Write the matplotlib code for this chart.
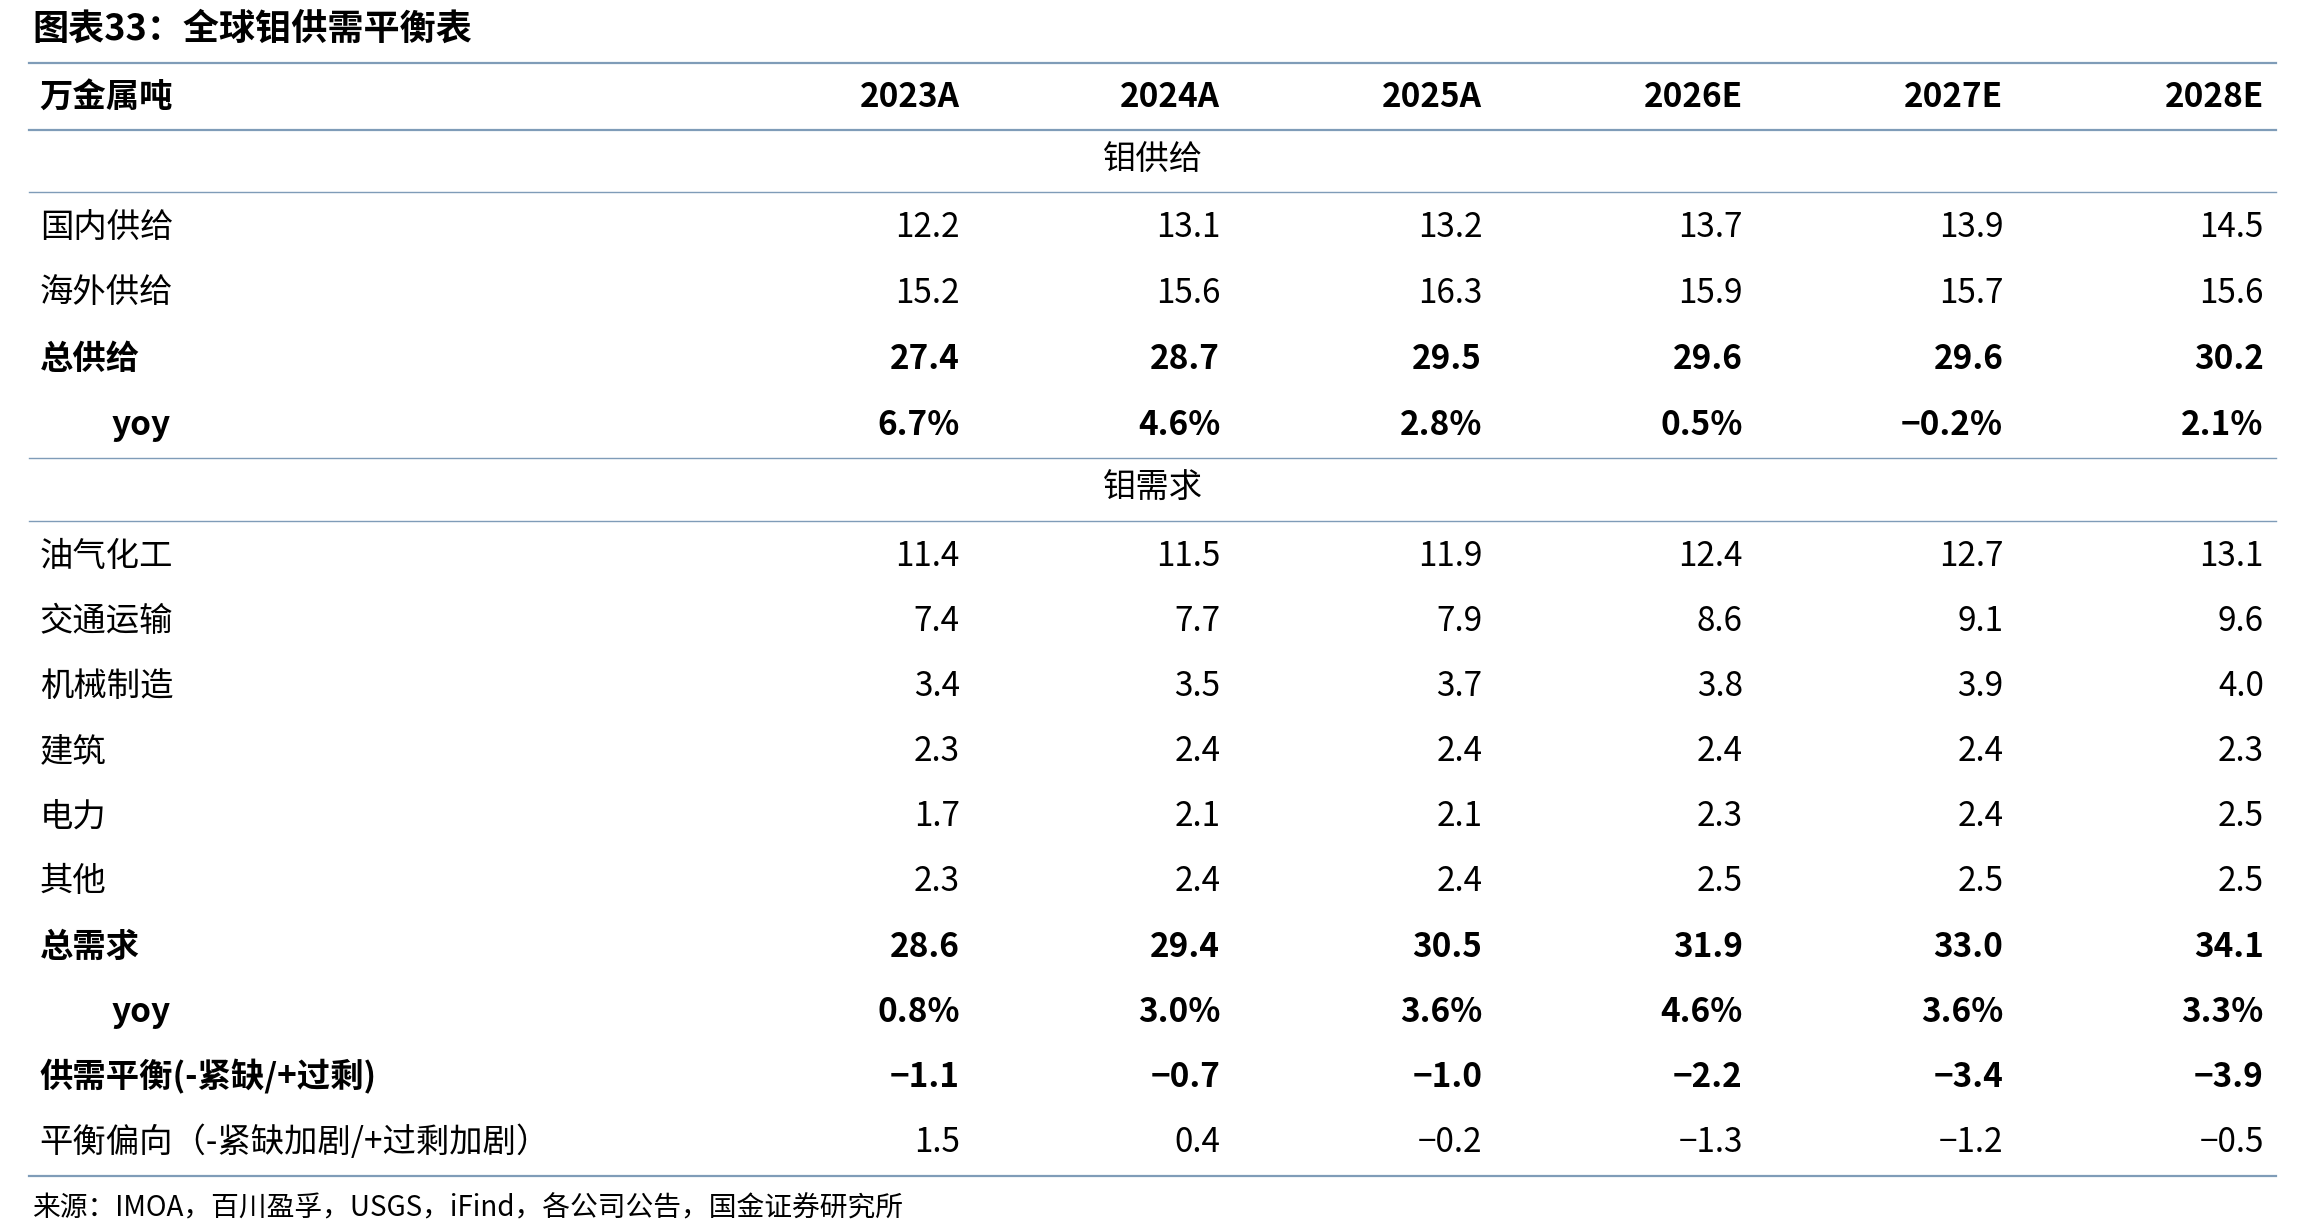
import matplotlib.pyplot as plt

plt.rcParams['font.family'] = ['Noto Sans CJK SC', 'DejaVu Sans']

title = "图表33：全球钼供需平衡表"
unit = "万金属吨"
years = ["2023A", "2024A", "2025A", "2026E", "2027E", "2028E"]

supply_rows = ["国内供给", "海外供给", "总供给", "yoy"]
supply_vals = [
    ["12.2", "13.1", "13.2", "13.7", "13.9", "14.5"],
    ["15.2", "15.6", "16.3", "15.9", "15.7", "15.6"],
    ["27.4", "28.7", "29.5", "29.6", "29.6", "30.2"],
    ["6.7%", "4.6%", "2.8%", "0.5%", "-0.2%", "2.1%"],
]
supply_bold = [False, False, True, True]

demand_rows = ["油气化工", "交通运输", "机械制造", "建筑", "电力", "其他", "总需求", "yoy",
               "供需平衡(-紧缺/+过剩)", "平衡偏向（-紧缺加剧/+过剩加剧）"]
demand_vals = [
    ["11.4", "11.5", "11.9", "12.4", "12.7", "13.1"],
    ["7.4", "7.7", "7.9", "8.6", "9.1", "9.6"],
    ["3.4", "3.5", "3.7", "3.8", "3.9", "4.0"],
    ["2.3", "2.4", "2.4", "2.4", "2.4", "2.3"],
    ["1.7", "2.1", "2.1", "2.3", "2.4", "2.5"],
    ["2.3", "2.4", "2.4", "2.5", "2.5", "2.5"],
    ["28.6", "29.4", "30.5", "31.9", "33.0", "34.1"],
    ["0.8%", "3.0%", "3.6%", "4.6%", "3.6%", "3.3%"],
    ["-1.1", "-0.7", "-1.0", "-2.2", "-3.4", "-3.9"],
    ["1.5", "0.4", "-0.2", "-1.3", "-1.2", "-0.5"],
]
demand_bold = [False] * 6 + [True, True, True, False]
source = "来源：IMOA，百川盈孚，USGS，iFind，各公司公告，国金证券研究所"

W, H = 1568.0, 834.0
fig = plt.figure(figsize=(23.08, 12.31), dpi=100)
fig.patch.set_facecolor('white')
fs = 24
line_c = '#7f9cb8'
col_x = [652, 829, 1007, 1184, 1361, 1538]


def fx(x):
    return x / W


def fy(y):
    return 1 - y / H


def hline(y, lw=1.6):
    fig.add_artist(plt.Line2D([fx(20), fx(1546)], [fy(y), fy(y)], color=line_c, lw=lw))


def row(y, label, vals, bold):
    w = 'bold' if bold else 'normal'
    lx = 76 if label == 'yoy' else 27
    fig.text(fx(lx), fy(y), label, fontsize=fs, fontweight=w, ha='left', va='center')
    for x, v in zip(col_x, vals):
        fig.text(fx(x), fy(y), v.replace('-', '−'), fontsize=fs, fontweight=w, ha='right', va='center')


fig.text(fx(22), fy(20), title, fontsize=26, fontweight='bold', style='italic', ha='left', va='center')
hline(43)
row(66, unit, years, True)
hline(88)
fig.text(fx(783), fy(109), "钼供给", fontsize=fs, ha='center', va='center')
hline(130, 1.0)
for i, (lab, v) in enumerate(zip(supply_rows, supply_vals)):
    row(154 + i * 44.7, lab, v, supply_bold[i])
hline(310, 1.0)
fig.text(fx(783), fy(331), "钼需求", fontsize=fs, ha='center', va='center')
hline(353, 1.0)
for i, (lab, v) in enumerate(zip(demand_rows, demand_vals)):
    row(377 + i * 44.1, lab, v, demand_bold[i])
hline(797)
fig.text(fx(22), fy(819), source, fontsize=20, ha='left', va='center')

fig.savefig('out.png', dpi=100)
